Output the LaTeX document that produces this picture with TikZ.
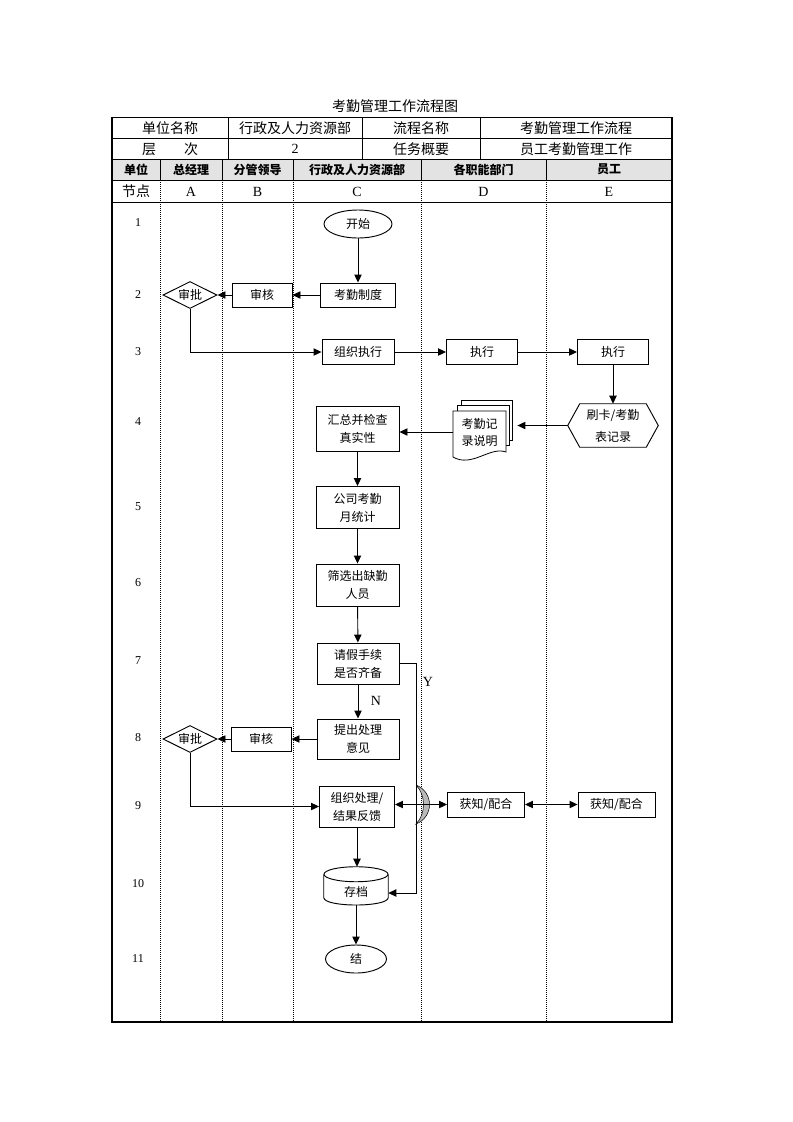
\documentclass[tikz,border=0pt]{standalone}
\usepackage{fontspec}
\setmainfont{Liberation Serif}
\newfontfamily\cjk{Noto Sans CJK SC}
\usetikzlibrary{arrows.meta,shapes.geometric,calc}
\begin{document}
\begin{tikzpicture}[x=0.75pt,y=-0.75pt,
  fb/.style={draw, line width=0.7pt, rectangle, align=center, inner sep=1pt, font=\cjk\fontsize{9}{13.5}\selectfont},
  el/.style={draw, ellipse, line width=0.7pt, inner sep=0pt, font=\cjk\fontsize{9}{11}\selectfont},
  dm/.style={draw, diamond, aspect=2, line width=0.7pt, inner sep=0pt, minimum width=40.5pt, minimum height=20.25pt, font=\cjk\fontsize{9}{11}\selectfont},
  ar/.style={line width=0.7pt, -{Triangle[length=6pt,width=5.5pt]}},
  dar/.style={line width=0.7pt, {Triangle[length=6pt,width=5.5pt]}-{Triangle[length=6pt,width=5.5pt]}},
  hd/.style={font=\cjk\bfseries\fontsize{9}{11}\selectfont},
  tt/.style={font=\cjk\fontsize{10.5}{12}\selectfont},
  lt/.style={font=\fontsize{10.5}{12}\selectfont},
  rn/.style={font=\fontsize{9}{11}\selectfont},
  bt/.style={font=\cjk\fontsize{9}{11}\selectfont},
  dl/.style={line width=0.75pt, dash pattern=on 0.75pt off 0.75pt},
  tl/.style={line width=0.75pt}]
\useasboundingbox (0,0) rectangle (793,1122);
% ---------- table ----------
\fill[gray!22] (112,159) rectangle (672,180);
\foreach \y in {138.5,159,180,202} \draw[tl] (112,\y) -- (672,\y);
\foreach \x in {228,362,480} \draw[tl] (\x,117.5) -- (\x,159);
\foreach \x in {160,222,293,421,546} {\draw[tl] (\x,159) -- (\x,180); \draw[dl] (\x,180) -- (\x,1022);}
\draw[line width=1pt] (112,117.5) rectangle (672,1022);
\node (title) [tt] at (395,106) {考勤管理工作流程图};
\node (r1a) [tt] at (170,128) {单位名称};
\node (r1b) [tt] at (295,128) {行政及人力资源部};
\node (r1c) [tt] at (421,128) {流程名称};
\node (r1d) [tt] at (576,128) {考勤管理工作流程};
\node (r2a) [tt] at (170,149) {层\hspace{2em}次};
\node (r2b) [lt] at (295,149) {2};
\node (r2c) [tt] at (421,149) {任务概要};
\node (r2d) [tt] at (576,149) {员工考勤管理工作};
\node (h1) [hd] at (136,169.5) {单位};
\node (h2) [hd] at (191,169.5) {总经理};
\node (h3) [hd] at (257.5,169.5) {分管领导};
\node (h4) [hd] at (357,169.5) {行政及人力资源部};
\node (h5) [hd] at (483.5,169.5) {各职能部门};
\node (h6) [hd] at (609,169.5) {员工};
\node (n0) [tt] at (136,191.5) {节点};
\node (nA) [lt] at (191,191.5) {A};
\node (nB) [lt] at (257.5,191.5) {B};
\node (nC) [lt] at (357,191.5) {C};
\node (nD) [lt] at (483.5,191.5) {D};
\node (nE) [lt] at (609,191.5) {E};
\foreach \n/\y in {1/223,2/295,3/352,4/422,5/507,6/583,7/661,8/738,9/806,10/884,11/959}
  \node (row\n) [rn] at (138,\y) {\n};
% ---------- nodes ----------
\node (start) [el, minimum width=51pt, minimum height=21pt] at (358,224) {开始};
\node (kqzd) [fb, minimum width=56.25pt, minimum height=18pt] at (358,295) {考勤制度};
\node (sh1) [fb, minimum width=45pt, minimum height=18pt] at (262,295) {审核};
\node (sp1) [dm] at (190,295) {审批};
\node (zzzx) [fb, minimum width=54pt, minimum height=18.75pt] at (358,352) {组织执行};
\node (zxd) [fb, minimum width=53.25pt, minimum height=18.75pt] at (482,352) {执行};
\node (zxe) [fb, minimum width=53.25pt, minimum height=18.75pt] at (613,352) {执行};
\node (hex) [minimum width=67.5pt, minimum height=32.25pt, inner sep=0pt, align=center, font=\cjk\fontsize{9}{16.5}\selectfont] at (613,425.5) {刷卡/考勤\\表记录};
\draw[line width=0.7pt] (hex.west) -- ($(hex.north west)+(12,0)$) -- ($(hex.north east)+(-12,0)$) -- (hex.east) -- ($(hex.south east)+(-12,0)$) -- ($(hex.south west)+(12,0)$) -- cycle;
\node (pg3) [draw, fill=white, line width=0.6pt, minimum width=38.25pt, minimum height=30pt, inner sep=0pt] at (486.5,420) {};
\node (pg2) [draw, fill=white, line width=0.6pt, minimum width=39pt, minimum height=30pt, inner sep=0pt] at (483,425) {};
\filldraw[fill=white, line width=0.6pt] (453,411) -- (506,411) -- (506,452) .. controls (490,446) and (472,468) .. (453,457) -- cycle;
\node (doc) [minimum width=39.75pt, inner sep=0pt, align=center, font=\cjk\fontsize{9}{12.75}\selectfont] at (479.5,432) {考勤记\\录说明};
\node (hz) [fb, minimum width=62.25pt, minimum height=33.75pt] at (357.5,429) {汇总并检查\\真实性};
\node (ytj) [fb, minimum width=62.25pt, minimum height=31.5pt] at (357.5,507.5) {公司考勤\\月统计};
\node (sx) [fb, minimum width=62.25pt, minimum height=31.5pt] at (357.5,585) {筛选出缺勤\\人员};
\node (qj) [fb, minimum width=61.5pt, minimum height=30.75pt] at (358,663.5) {请假手续\\是否齐备};
\node (tc) [fb, minimum width=61.5pt, minimum height=30pt] at (358,739) {提出处理\\意见};
\node (sh2) [fb, minimum width=45pt, minimum height=18pt] at (261,739) {审核};
\node (sp2) [dm] at (190,739) {审批};
\node (zzcl) [fb, minimum width=56.25pt, minimum height=30.75pt] at (357,806.5) {组织处理/\\结果反馈};
\node (hzd) [fb, minimum width=57.75pt, minimum height=18.75pt] at (486,804.5) {获知/配合};
\node (hze) [fb, minimum width=57.75pt, minimum height=18.75pt] at (616.5,804.5) {获知/配合};
\node (cyl) [minimum width=48pt, minimum height=28.5pt, inner sep=0pt] at (356,886) {};
\draw[line width=0.7pt, fill=white] ($(cyl.west)+(0,-11.5)$) -- ($(cyl.west)+(0,11.5)$) .. controls ($(cyl.west)+(0,21.5)$) and ($(cyl.east)+(0,21.5)$) .. ($(cyl.east)+(0,11.5)$) -- ($(cyl.east)+(0,-11.5)$);
\draw[line width=0.7pt] ($(cyl.north)+(0,7.5)$) ellipse [x radius=32, y radius=7.5];
\node (cylt) [bt] at (356,892) {存档};
\node (end) [el, minimum width=45.75pt, minimum height=21pt] at (356,959) {结\hspace{9pt}};
\node (nlab) [lt] at (376,701) {N};
\node (ylab) [lt] at (428,682) {Y};
% ---------- connectors ----------
\draw[ar] (start) -- (kqzd);
\draw[ar] (kqzd) -- (sh1);
\draw[ar] (sh1) -- (sp1);
\draw[ar] (sp1.south) |- (zzzx.west);
\draw[ar] (zzzx) -- (zxd);
\draw[ar] (zxd) -- (zxe);
\draw[ar] (zxe) -- (hex.north);
\draw[ar, shorten >=3.75pt] (hex.west) -- (hex.west -| pg3.east);
\draw[ar] (doc.west) -- (doc.west -| hz.east);
\draw[ar] (hz) -- (ytj);
\draw[ar] (ytj) -- (sx);
\draw[ar] (sx) -- (qj);
\draw[ar] (qj) -- (tc);
\draw[ar] (tc) -- (sh2);
\draw[ar] (sh2) -- (sp2);
\draw[ar] (sp2.south) |- (zzcl.west);
\coordinate (yt) at ($(qj.east)+(17,0)$);
\coordinate (ye) at ($(cyl.east)+(0,7)$);
\draw[ar] (qj.east) -- (yt) |- (ye);
\filldraw[fill=gray!55, draw=black, line width=0.4pt] (416,785) .. controls (434,792) and (434,817) .. (416,824) .. controls (426,814) and (426,795) .. (416,785);
\draw[dar] (hzd.west -| zzcl.east) -- (hzd.west);
\draw[dar] (hzd) -- (hze);
\draw[ar] (zzcl.south) -- (zzcl.south |- cyl.north);
\draw[ar] (cyl.south) -- (end.north);
\end{tikzpicture}
\end{document}
